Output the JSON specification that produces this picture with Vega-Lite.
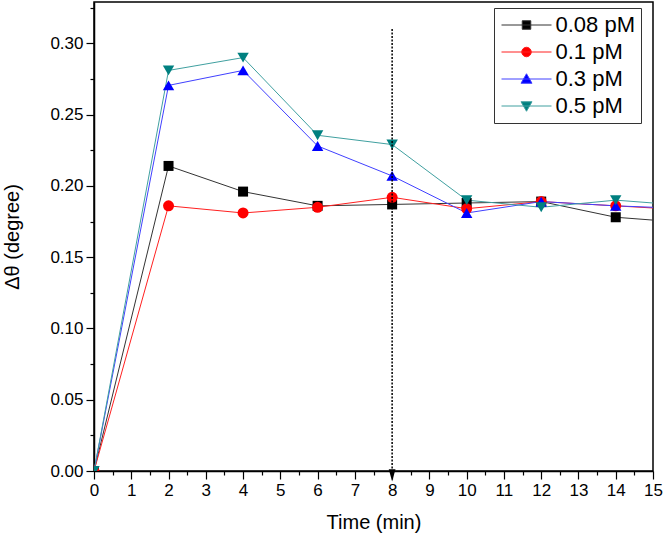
{
  "$schema": "https://vega.github.io/schema/vega-lite/v6.json",
  "width": 559,
  "height": 469,
  "autosize": {"type": "none"},
  "padding": {"left": 94, "top": 2, "right": 10, "bottom": 67},
  "background": "white",
  "config": {
    "view": {"stroke": "#000", "strokeWidth": 1.5},
    "font": "Liberation Sans",
    "axis": {
      "domainColor": "#000", "domainWidth": 1.5, "tickColor": "#000", "tickWidth": 1.2,
      "labelColor": "#000", "titleColor": "#000", "labelFont": "Liberation Sans", "titleFont": "Liberation Sans",
      "labelFontSize": 17, "titleFontSize": 20, "titleFontWeight": "normal", "grid": false, "labelOverlap": false, "labelBound": false, "labelFlush": false
    },
    "legend": {
      "orient": "none",
      "legendX": 400,
      "legendY": 6,
      "padding": 6,
      "strokeColor": "#333",
      "fillColor": "white",
      "symbolSize": 100,
      "symbolStrokeWidth": 1,
      "symbolOffset": 15.5,
      "labelOffset": 18,
      "labelFont": "Liberation Sans",
      "labelFontSize": 22,
      "labelColor": "#000",
      "rowPadding": 5,
      "symbolOpacity": 1
    }
  },
  "datasets": {
    "series": [
      {"series": "0.08 pM", "t": 0, "v": 0},
      {"series": "0.08 pM", "t": 2, "v": 0.214},
      {"series": "0.08 pM", "t": 4, "v": 0.196},
      {"series": "0.08 pM", "t": 6, "v": 0.186},
      {"series": "0.08 pM", "t": 8, "v": 0.187},
      {"series": "0.08 pM", "t": 10, "v": 0.188},
      {"series": "0.08 pM", "t": 12, "v": 0.189},
      {"series": "0.08 pM", "t": 14, "v": 0.178},
      {"series": "0.08 pM", "t": 16, "v": 0.174},
      {"series": "0.1 pM", "t": 0, "v": 0},
      {"series": "0.1 pM", "t": 2, "v": 0.186},
      {"series": "0.1 pM", "t": 4, "v": 0.181},
      {"series": "0.1 pM", "t": 6, "v": 0.185},
      {"series": "0.1 pM", "t": 8, "v": 0.192},
      {"series": "0.1 pM", "t": 10, "v": 0.184},
      {"series": "0.1 pM", "t": 12, "v": 0.189},
      {"series": "0.1 pM", "t": 14, "v": 0.186},
      {"series": "0.1 pM", "t": 16, "v": 0.183},
      {"series": "0.3 pM", "t": 0, "v": 0},
      {"series": "0.3 pM", "t": 2, "v": 0.2705},
      {"series": "0.3 pM", "t": 4, "v": 0.281},
      {"series": "0.3 pM", "t": 6, "v": 0.228},
      {"series": "0.3 pM", "t": 8, "v": 0.207},
      {"series": "0.3 pM", "t": 10, "v": 0.181},
      {"series": "0.3 pM", "t": 12, "v": 0.189},
      {"series": "0.3 pM", "t": 14, "v": 0.186},
      {"series": "0.3 pM", "t": 16, "v": 0.184},
      {"series": "0.5 pM", "t": 0, "v": 0},
      {"series": "0.5 pM", "t": 2, "v": 0.281},
      {"series": "0.5 pM", "t": 4, "v": 0.29},
      {"series": "0.5 pM", "t": 6, "v": 0.2355},
      {"series": "0.5 pM", "t": 8, "v": 0.229},
      {"series": "0.5 pM", "t": 10, "v": 0.19},
      {"series": "0.5 pM", "t": 12, "v": 0.185},
      {"series": "0.5 pM", "t": 14, "v": 0.19},
      {"series": "0.5 pM", "t": 16, "v": 0.186}
    ],
    "marker": [
      {"t": 8, "top": 0.31, "bottom": 0.0, "tip": -0.003}
    ]
  },
  "encoding": {
    "x": {
      "field": "t", "type": "quantitative",
      "scale": {"domain": [0, 15], "nice": false, "zero": false},
      "axis": {
        "title": "Time (min)",
        "values": [0,0.5,1,1.5,2,2.5,3,3.5,4,4.5,5,5.5,6,6.5,7,7.5,8,8.5,9,9.5,10,10.5,11,11.5,12,12.5,13,13.5,14,14.5,15],
        "labelExpr": "datum.value % 1 == 0 ? format(datum.value, 'd') : ''",
        "tickSize": {"condition": {"test": "datum.value % 1 == 0", "value": 8}, "value": 4},
        "labelPadding": 3,
        "titlePadding": 14
      }
    },
    "y": {
      "field": "v", "type": "quantitative",
      "scale": {"domain": [0, 0.329], "nice": false, "zero": true},
      "axis": {
        "title": "Δθ (degree)",
        "values": [0,0.025,0.05,0.075,0.1,0.125,0.15,0.175,0.2,0.225,0.25,0.275,0.3,0.325],
        "labelExpr": "abs(round(datum.value*20) - datum.value*20) < 0.01 ? format(datum.value, '.2f') : ''",
        "tickSize": {"condition": {"test": "abs(round(datum.value*20) - datum.value*20) < 0.01", "value": 8}, "value": 4},
        "labelPadding": 3,
        "titlePadding": 27
      }
    }
  },
  "layer": [
    {
      "data": {"name": "series"},
      "transform": [{"filter": "datum.series == '0.08 pM'"}],
      "mark": {"type": "line", "strokeWidth": 1, "clip": true, "color": "#333333"}
    },
    {
      "data": {"name": "series"},
      "transform": [{"filter": "datum.series == '0.1 pM'"}],
      "mark": {"type": "line", "strokeWidth": 1, "clip": true, "color": "#ff2020"}
    },
    {
      "data": {"name": "series"},
      "transform": [{"filter": "datum.series == '0.3 pM'"}],
      "mark": {"type": "line", "strokeWidth": 1, "clip": true, "color": "#4040ff"}
    },
    {
      "data": {"name": "series"},
      "transform": [{"filter": "datum.series == '0.5 pM'"}],
      "mark": {"type": "line", "strokeWidth": 1, "clip": true, "color": "#40a0a0"}
    },
    {
      "data": {"name": "series"},
      "transform": [{"filter": "datum.series == '0.08 pM'"}],
      "mark": {"type": "point", "shape": "square", "filled": true, "size": 100, "color": "#000000", "opacity": 1, "clip": true}
    },
    {
      "data": {"name": "series"},
      "transform": [{"filter": "datum.series == '0.1 pM'"}],
      "mark": {"type": "point", "shape": "circle", "filled": true, "size": 120, "color": "#ff0000", "opacity": 1, "clip": true}
    },
    {
      "data": {"name": "series"},
      "transform": [{"filter": "datum.series == '0.3 pM'"}],
      "mark": {"type": "point", "shape": "triangle-up", "filled": true, "size": 130, "color": "#0000ff", "opacity": 1, "clip": true}
    },
    {
      "data": {"name": "series"},
      "transform": [{"filter": "datum.series == '0.5 pM'"}],
      "mark": {"type": "point", "shape": "triangle-down", "filled": true, "size": 130, "color": "#008080", "opacity": 1, "clip": true}
    },
    {
      "data": {"name": "marker"},
      "mark": {"type": "rule", "color": "#000", "strokeWidth": 1.5, "strokeDash": [2, 1.5]},
      "encoding": {"y": {"field": "top", "type": "quantitative"}, "y2": {"field": "bottom"}}
    },
    {
      "data": {"name": "marker"},
      "mark": {"type": "point", "shape": "M-0.55,-1L0.55,-1L0,1Z", "filled": true, "size": 150, "color": "#000", "opacity": 1},
      "encoding": {"y": {"field": "tip", "type": "quantitative"}}
    },
    {
      "data": {"name": "series"},
      "transform": [{"filter": "datum.t == 16"}],
      "mark": {"type": "point", "filled": true, "size": 100, "opacity": 1, "clip": true, "strokeWidth": 1},
      "encoding": {
        "fill": {
          "field": "series", "type": "nominal",
          "scale": {"domain": ["0.08 pM", "0.1 pM", "0.3 pM", "0.5 pM"], "range": ["#000000", "#ff0000", "#0000ff", "#008080"]},
          "legend": {"title": null, "labelFontSize": 22}
        },
        "stroke": {
          "field": "series", "type": "nominal",
          "scale": {"domain": ["0.08 pM", "0.1 pM", "0.3 pM", "0.5 pM"], "range": ["#333333", "#ff2020", "#4040ff", "#40a0a0"]},
          "legend": {"title": null, "labelFontSize": 22}
        },
        "shape": {
          "field": "series", "type": "nominal",
          "scale": {"domain": ["0.08 pM", "0.1 pM", "0.3 pM", "0.5 pM"], "range": [
            "M-5,0H5M-0.85,-0.85H0.85V0.85H-0.85Z",
            "M-5,0H5M-0.95,0A0.95,0.95,0,1,0,0.95,0A0.95,0.95,0,1,0,-0.95,0Z",
            "M-5,0H5M0,-1.05L1.1,0.85L-1.1,0.85Z",
            "M-5,0H5M0,1.05L1.1,-0.85L-1.1,-0.85Z"
          ]},
          "legend": {"title": null, "labelFontSize": 22}
        }
      }
    }
  ]
}
